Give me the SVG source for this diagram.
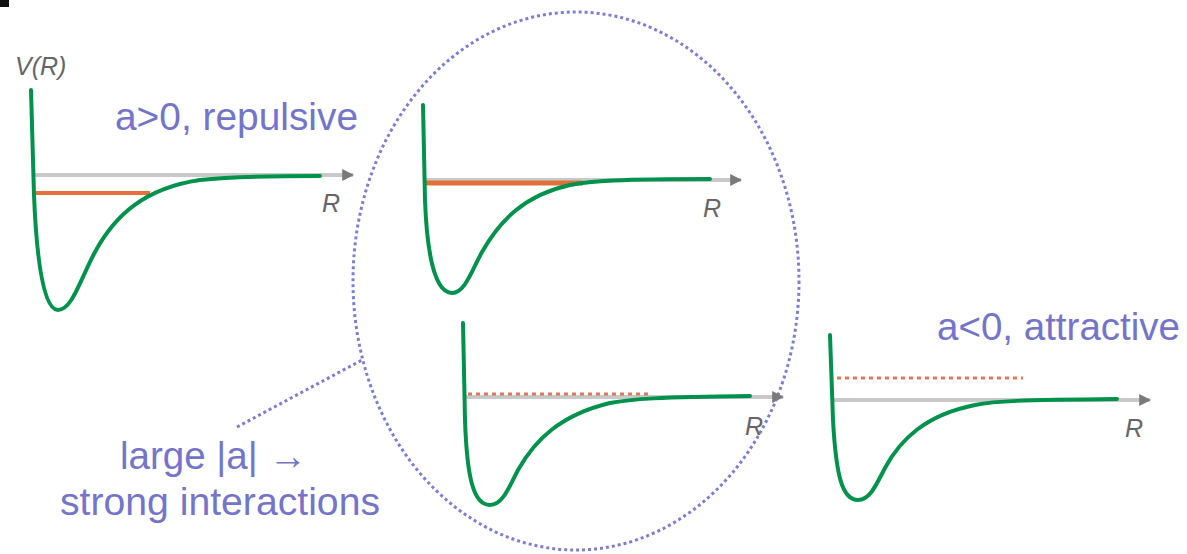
<svg xmlns="http://www.w3.org/2000/svg" width="1187" height="554" viewBox="0 0 1187 554">
<defs>
<marker id="ah" viewBox="0 0 10 10" refX="9" refY="5" markerWidth="3" markerHeight="3" orient="auto" markerUnits="strokeWidth">
<path d="M0,0 L10,5 L0,10 z" fill="#7a7a7a"/>
</marker>
</defs>
<style>
.axis{stroke:#c9c9c9;stroke-width:4;fill:none}
.pot{stroke:#00924c;stroke-width:4;fill:none;stroke-linejoin:round;stroke-linecap:round}
.lvl{stroke:#e8703e;stroke-width:4;fill:none}
.lvld{stroke:#e2785a;stroke-width:3;fill:none;stroke-dasharray:4 4}
.lab{font-family:"Liberation Sans",Arial,sans-serif;font-style:italic;fill:#666;font-size:25px}
.note{font-family:"Liberation Sans",Arial,sans-serif;fill:#7474c8;font-size:38px}
.dot{stroke:#7d7dd2;stroke-width:3;fill:none;stroke-dasharray:3 3}
</style>
<rect width="1187" height="554" fill="#ffffff"/>
<rect x="0" y="0" width="9" height="7" fill="#111"/>

<g id="highlight">
<ellipse cx="576" cy="281" rx="223" ry="269" class="dot"/>
</g>

<g id="panel-repulsive">
<line x1="35" y1="175" x2="353" y2="175" class="axis" marker-end="url(#ah)"/>
<line x1="35" y1="193" x2="150" y2="193" class="lvl"/>
<path class="pot" d="M31,90 L34,195 C37,270 45,310 58,310 C72,310 80,280 95,252 C115,215 145,188 200,180 C230,177 260,176 320,176"/>
<text x="15" y="75" class="lab">V(R)</text>
<text x="322" y="212" class="lab">R</text>
<text x="115" y="130" class="note" textLength="243" lengthAdjust="spacingAndGlyphs">a&gt;0, repulsive</text>
</g>

<g id="panel-strong-upper">
<line x1="426" y1="180" x2="741" y2="180" class="axis" marker-end="url(#ah)"/>
<line x1="426" y1="183" x2="583" y2="183" class="lvl" style="stroke:#e0703a;stroke-width:5"/>
<path class="pot" d="M423,105 L425,200 C427,255 435,293 452,293 C465,293 472,270 482,252 C500,220 525,195 570,185 C590,181 620,179 710,179"/>
<text x="703" y="217" class="lab">R</text>
</g>

<g id="panel-strong-lower">
<line x1="466" y1="397" x2="783" y2="397" class="axis" marker-end="url(#ah)"/>
<line x1="468" y1="394" x2="650" y2="394" class="lvld"/>
<path class="pot" d="M463,323 L465,420 C467,480 474,505 490,505 C503,505 510,485 518,470 C535,440 560,415 610,403 C630,399 660,397 750,396"/>
<text x="745" y="435" class="lab">R</text>
</g>

<g id="panel-attractive">
<line x1="833" y1="400" x2="1150" y2="400" class="axis" marker-end="url(#ah)"/>
<line x1="837" y1="378" x2="1023" y2="378" class="lvld"/>
<path class="pot" d="M830,335 L833,420 C836,475 842,500 858,500 C870,500 876,485 885,468 C900,440 925,415 975,405 C995,401 1020,400 1117,399"/>
<text x="1125" y="437" class="lab">R</text>
<text x="937" y="340" class="note" textLength="243" lengthAdjust="spacingAndGlyphs">a&lt;0, attractive</text>
</g>

<g id="label-strong">
<text x="120" y="469" class="note" textLength="187" lengthAdjust="spacingAndGlyphs">large |a| →</text>
<text x="60" y="515" class="note" textLength="320" lengthAdjust="spacingAndGlyphs">strong interactions</text>
</g>

<g id="connectors">
<line x1="237" y1="427" x2="362" y2="360" class="dot"/>
</g>
</svg>
